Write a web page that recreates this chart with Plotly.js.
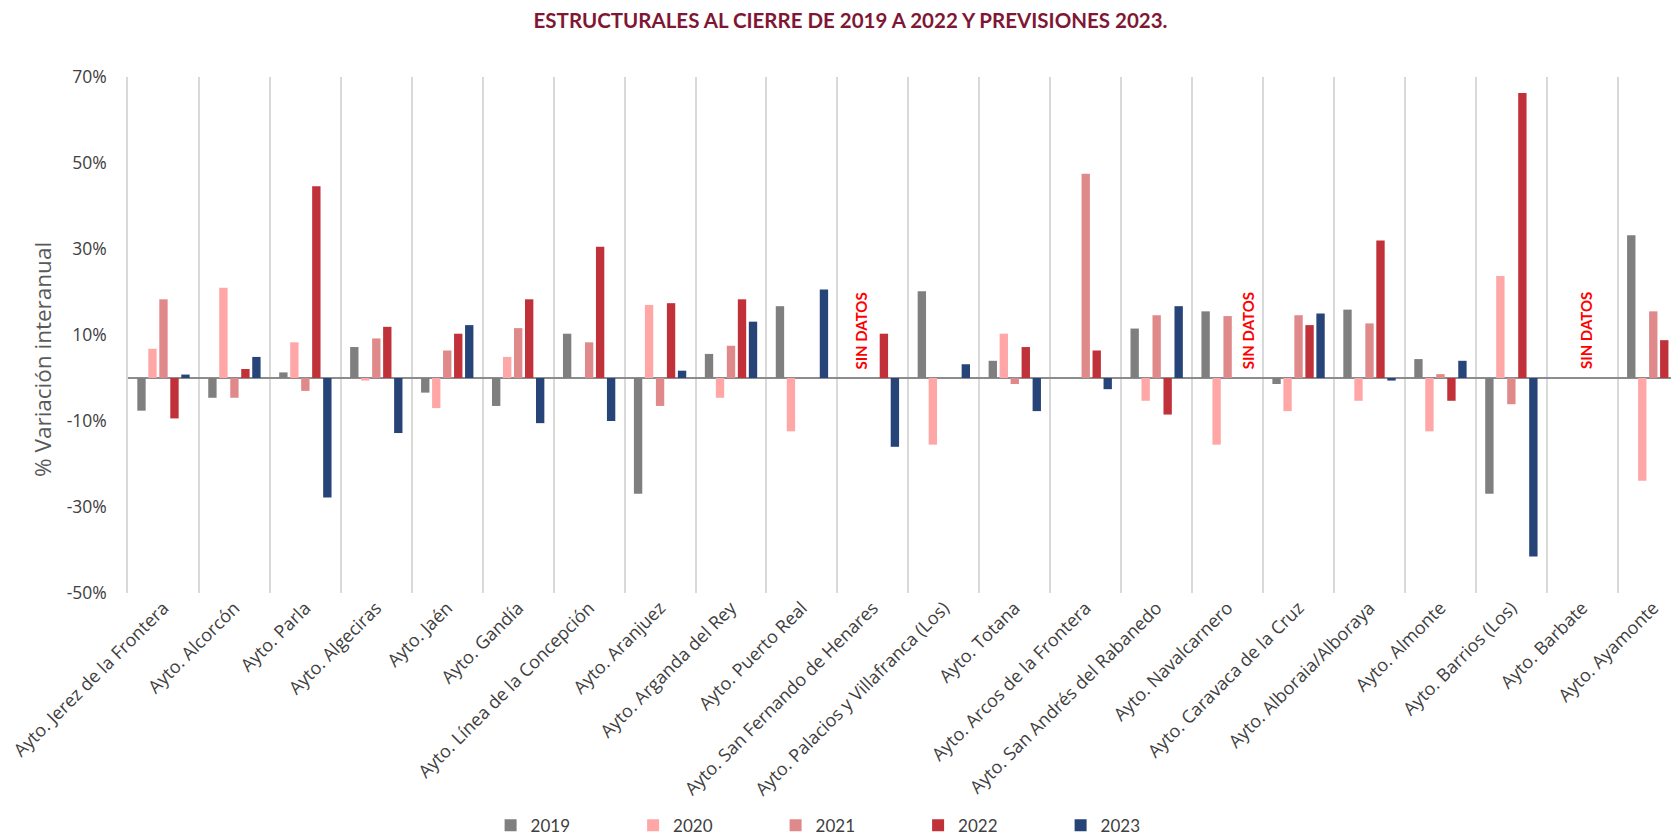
<!DOCTYPE html>
<html>
<head>
<meta charset="utf-8">
<script src="https://cdn.plot.ly/plotly-3.0.1.min.js"></script>
<style>
  html, body { margin: 0; padding: 0; background: #fff; }
  #plot { width: 1671px; height: 835px; }
</style>
</head>
<body>
<div id="plot"></div>
<script>
// municipalities (x categories)
const ayuntamientos = [
  'Ayto. Jerez de la Frontera', 'Ayto. Alcorcón', 'Ayto. Parla', 'Ayto. Algeciras',
  'Ayto. Jaén', 'Ayto. Gandía', 'Ayto. Línea de la Concepción', 'Ayto. Aranjuez',
  'Ayto. Arganda del Rey', 'Ayto. Puerto Real', 'Ayto. San Fernando de Henares',
  'Ayto. Palacios y Villafranca (Los)', 'Ayto. Totana', 'Ayto. Arcos de la Frontera',
  'Ayto. San Andrés del Rabanedo', 'Ayto. Navalcarnero', 'Ayto. Caravaca de la Cruz',
  'Ayto. Alboraia/Alboraya', 'Ayto. Almonte', 'Ayto. Barrios (Los)', 'Ayto. Barbate',
  'Ayto. Ayamonte'
];

// % variacion interanual, null = no bar
const v2019 = [-7.6, -4.6, 1.3, 7.2, -3.4, -6.5, 10.3, -26.9, 5.6, 16.7, null, 20.2, 4.0, null, 11.5, 15.5, -1.4, 15.9, 4.4, -26.9, null, 33.2];
const v2020 = [6.8, 21.0, 8.3, -0.6, -7.0, 4.9, null, 17.0, -4.6, -12.4, null, -15.5, 10.3, null, -5.3, -15.5, -7.7, -5.3, -12.4, 23.7, null, -23.9];
const v2021 = [18.3, -4.6, -3.0, 9.2, 6.4, 11.6, 8.3, -6.5, 7.5, null, null, null, -1.4, 47.5, 14.6, 14.4, 14.6, 12.7, 0.9, -6.1, null, 15.5];
const v2022 = [-9.4, 2.1, 44.6, 11.9, 10.3, 18.3, 30.5, 17.4, 18.3, null, 10.3, null, 7.2, 6.4, -8.5, null, 12.3, 32.0, -5.3, 66.3, null, 8.8];
const v2023 = [0.8, 4.9, -27.8, -12.8, 12.3, -10.5, -10.0, 1.7, 13.1, 20.6, -16.0, 3.2, -7.7, -2.6, 16.7, null, 15.0, -0.6, 4.0, -41.5, null, -0.5];

const years = ['2019', '2020', '2021', '2022', '2023'];
const colores = ['#7f7f7f', '#ffa7a7', '#e0898b', '#c0313a', '#264478'];

// y ticks (hyphen minus like the original)
const yTickVals = [70, 50, 30, 10, -10, -30, -50];
const yTickText = ['70%', '50%', '30%', '10%', '-10%', '-30%', '-50%'];

const sinDatos = ['Ayto. San Fernando de Henares', 'Ayto. Navalcarnero', 'Ayto. Barbate'];
const sinDatosShift = [-12, 20, 3];

const series = [v2019, v2020, v2021, v2022, v2023];

let data = series.map((vals, i) => {
  return {
    type: 'bar',
    name: years[i],
    x: ayuntamientos,
    y: vals,
    marker: { color: colores[i], line: { width: 0 } },
    hoverinfo: 'x+y+name'
  }
});

let annotations = sinDatos.map((name, i) => ({
  x: name,
  y: 11,
  xref: 'x',
  yref: 'y',
  text: '<b>SIN DATOS</b>',
  textangle: -90,
  showarrow: false,
  xshift: sinDatosShift[i],
  font: { family: 'Lato, sans-serif', size: 15, color: '#ff0000' }
}));

// y axis title, sits a bit below the middle of the axis in the original
annotations.push({
  xref: 'paper',
  yref: 'paper',
  x: -0.0553,
  y: 0.453,
  xanchor: 'center',
  yanchor: 'middle',
  text: '% Variación interanual',
  textangle: -90,
  showarrow: false,
  font: { family: '"Open Sans", sans-serif', size: 22.5, color: '#595959' }
});

Plotly.newPlot('plot', data, {
  width: 1671,
  height: 835,
  paper_bgcolor: '#ffffff',
  plot_bgcolor: '#ffffff',
  margin: { l: 128, r: 0, t: 77, b: 242 },
  font: { family: 'Lato, sans-serif', color: '#404040' },
  title: {
    text: '<b>ESTRUCTURALES AL CIERRE DE 2019 A 2022 Y PREVISIONES 2023.</b>',
    font: { family: 'Lato, sans-serif', size: 20.5, color: '#7f1734' },
    x: 0.509,
    xref: 'container',
    y: 0.975,
    yanchor: 'middle'
  },
  barmode: 'group',
  bargap: 0.225,
  bargroupgap: 0.24,
  xaxis: {
    type: 'category',
    range: [-0.5, 21.25],
    tickson: 'boundaries',
    showgrid: true,
    gridcolor: '#d9d9d9',
    gridwidth: 1.5,
    ticks: '',
    tickangle: -45,
    tickfont: { family: '"Open Sans", sans-serif', size: 18, color: '#404040' },
    showline: false,
    zeroline: false,
    automargin: false
  },
  yaxis: {
    range: [-50, 70],
    tickmode: 'array',
    tickvals: yTickVals,
    ticktext: yTickText,
    showgrid: false,
    zeroline: true,
    zerolinecolor: '#8c8c8c',
    zerolinewidth: 1.5,
    showline: true,
    linecolor: '#d9d9d9',
    linewidth: 1.5,
    ticklabelstandoff: 16,
    tickfont: { family: '"Open Sans", sans-serif', size: 17.5, color: '#404040' },
    automargin: false
  },
  legend: {
    orientation: 'h',
    x: 0.235,
    xanchor: 'left',
    yref: 'container',
    y: 0.011,
    yanchor: 'middle',
    entrywidth: 97.5,
    font: { size: 17, color: '#404040' },
    traceorder: 'normal'
  },
  annotations: annotations
}, {
  displayModeBar: false
});
</script>
</body>
</html>
